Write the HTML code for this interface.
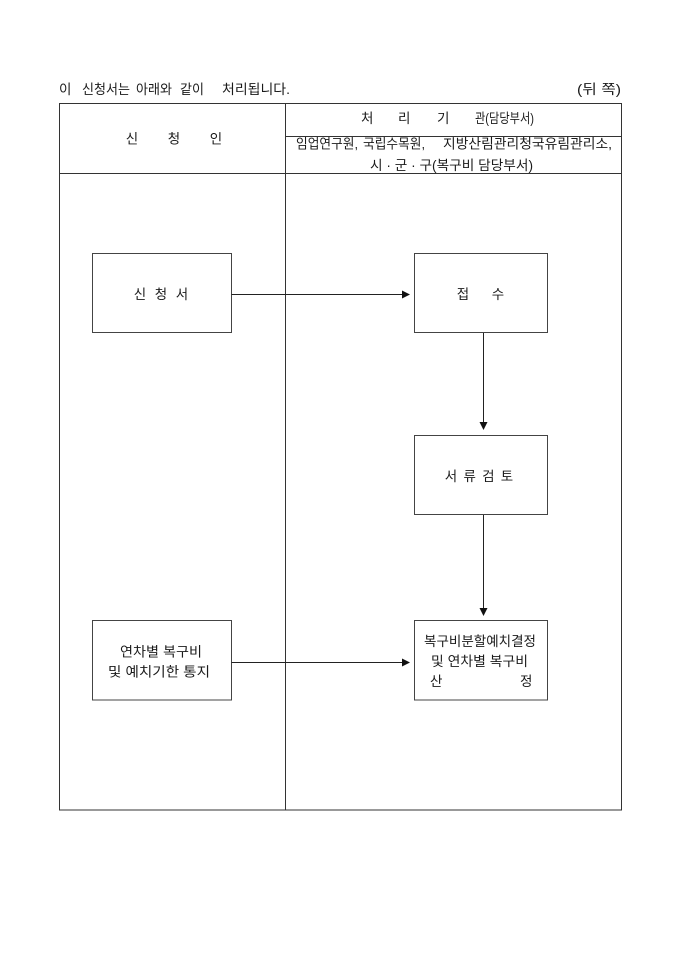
<!DOCTYPE html>
<html>
<head>
<meta charset="utf-8">
<style>
  html,body{margin:0;padding:0;background:#fff;}
  svg{display:block;}
  text{font-family:"Liberation Sans","Noto Sans CJK KR","NanumGothic",sans-serif;font-size:13.5px;fill:#1a1a1a;}
</style>
</head>
<body>
<svg width="680" height="962" viewBox="0 0 680 962" xmlns="http://www.w3.org/2000/svg">
  <rect x="0" y="0" width="680" height="962" fill="#fff"/>

  <!-- top caption -->
  <text x="59" y="94">이</text>
  <text x="82" y="94" textLength="48" lengthAdjust="spacingAndGlyphs">신청서는</text>
  <text x="136" y="94" textLength="36" lengthAdjust="spacingAndGlyphs">아래와</text>
  <text x="180" y="94" textLength="24" lengthAdjust="spacingAndGlyphs">같이</text>
  <text x="222" y="94" textLength="68" lengthAdjust="spacingAndGlyphs">처리됩니다.</text>
  <text x="577" y="94" textLength="44" lengthAdjust="spacingAndGlyphs">(뒤  쪽)</text>

  <!-- table frame -->
  <g stroke="#333" stroke-width="1" fill="none">
    <rect x="59.5" y="103.5" width="562" height="706.5"/>
    <line x1="285.5" y1="103.5" x2="285.5" y2="810"/>
    <line x1="59.5" y1="173.5" x2="621.5" y2="173.5"/>
    <line x1="285.5" y1="136.5" x2="621.5" y2="136.5"/>
  </g>

  <!-- header texts -->
  <text x="132" y="143.5" text-anchor="middle">신</text>
  <text x="174" y="143.5" text-anchor="middle">청</text>
  <text x="216" y="143.5" text-anchor="middle">인</text>

  <text x="361" y="123">처</text>
  <text x="398" y="123">리</text>
  <text x="437" y="123">기</text>
  <text x="475" y="123" textLength="59" lengthAdjust="spacingAndGlyphs">관(담당부서)</text>

  <text x="296" y="148.5" textLength="62" lengthAdjust="spacingAndGlyphs">임업연구원,</text>
  <text x="363" y="148.5" textLength="62" lengthAdjust="spacingAndGlyphs">국립수목원,</text>
  <text x="443" y="148.5" textLength="169" lengthAdjust="spacingAndGlyphs">지방산림관리청국유림관리소,</text>
  <text x="370" y="170" textLength="163" lengthAdjust="spacingAndGlyphs">시 · 군 · 구(복구비 담당부서)</text>

  <!-- boxes -->
  <g stroke="#444" stroke-width="1" fill="#fff">
    <rect x="92.5" y="253.5" width="139" height="79"/>
    <rect x="414.5" y="253.5" width="133" height="79"/>
    <rect x="414.5" y="435.5" width="133" height="79"/>
    <rect x="92.5" y="620.5" width="139" height="79.5"/>
    <rect x="414.5" y="620.5" width="133" height="79.5"/>
  </g>

  <!-- connectors -->
  <g stroke="#222" stroke-width="1" fill="none">
    <line x1="231.5" y1="294.5" x2="404" y2="294.5"/>
    <line x1="483.5" y1="333" x2="483.5" y2="424"/>
    <line x1="483.5" y1="515" x2="483.5" y2="610"/>
    <line x1="231.5" y1="662.5" x2="404" y2="662.5"/>
  </g>
  <g fill="#111">
    <polygon points="410,294.5 402,290.5 402,298.5"/>
    <polygon points="483.5,430 479.5,422 487.5,422"/>
    <polygon points="483.5,616 479.5,608 487.5,608"/>
    <polygon points="410,662.5 402,658.5 402,666.5"/>
  </g>

  <!-- box texts -->
  <text x="140" y="299" text-anchor="middle">신</text>
  <text x="161" y="299" text-anchor="middle">청</text>
  <text x="182" y="299" text-anchor="middle">서</text>

  <text x="463" y="299" text-anchor="middle">접</text>
  <text x="498" y="299" text-anchor="middle">수</text>

  <text x="451" y="481" text-anchor="middle">서</text>
  <text x="469.7" y="481" text-anchor="middle">류</text>
  <text x="488.3" y="481" text-anchor="middle">검</text>
  <text x="507" y="481" text-anchor="middle">토</text>

  <text x="120" y="656.5" textLength="82" lengthAdjust="spacingAndGlyphs">연차별 복구비</text>
  <text x="108" y="676.5" textLength="102" lengthAdjust="spacingAndGlyphs">및 예치기한 통지</text>

  <text x="424" y="646" textLength="112" lengthAdjust="spacingAndGlyphs">복구비분할예치결정</text>
  <text x="431" y="666" textLength="97" lengthAdjust="spacingAndGlyphs">및 연차별 복구비</text>
  <text x="430" y="686">산</text>
  <text x="520" y="686">정</text>
</svg>
</body>
</html>
